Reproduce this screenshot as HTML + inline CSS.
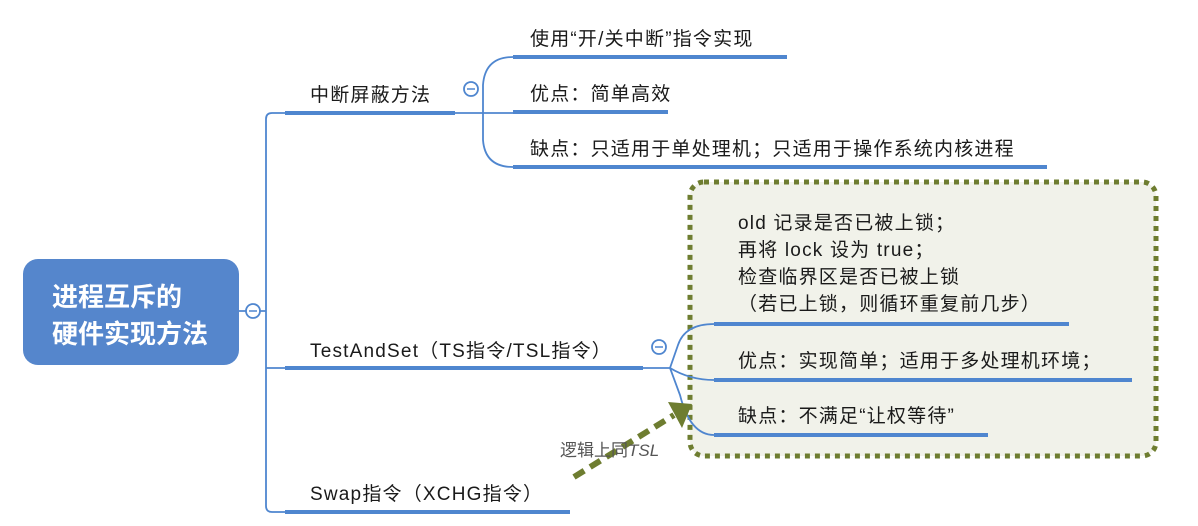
<!DOCTYPE html>
<html><head><meta charset="utf-8"><style>
html,body{margin:0;padding:0;background:#fff;}
svg{display:block;}
text{font-family:"Liberation Sans","Noto Sans CJK SC",sans-serif;fill:#1a1a1a;}
.t{font-size:19px;letter-spacing:1.2px;}
</style></head><body>
<svg width="1198" height="526" viewBox="0 0 1198 526" xmlns="http://www.w3.org/2000/svg">
<rect x="690" y="182" width="466" height="274" rx="14" fill="#f1f2ea" stroke="#6e7d30" stroke-width="5" stroke-dasharray="5 5"/>
<rect x="23" y="259" width="216" height="106" rx="15" fill="#5586cc"/>
<text x="52" y="306" font-size="26" font-weight="bold" style="fill:#fff">进程互斥的</text>
<text x="52" y="343" font-size="26" font-weight="bold" style="fill:#fff">硬件实现方法</text>
<g fill="none" stroke="#4f86cf" stroke-width="1.8">
<line x1="239" y1="311" x2="266" y2="311"/>
<path d="M285 113 H272 Q266 113 266 119 V506 Q266 512 272 512 H285"/>
<line x1="266" y1="368" x2="285" y2="368"/>
<line x1="455" y1="113" x2="513" y2="113"/>
<path d="M513 57 Q485 57 483 85 V140 Q485 167 513 167"/>
<line x1="643" y1="368" x2="670" y2="368"/>
<path d="M714 324 Q685 324 678 345 L670 368 L680 395 Q690 435 714 435"/>
<path d="M670 368 Q690 380 714 380"/>
</g>
<g fill="#fff" stroke="#4f86cf" stroke-width="1.8">
<circle cx="253" cy="311" r="7"/><circle cx="471" cy="89" r="7"/><circle cx="659" cy="347" r="7"/>
</g>
<g stroke="#4f86cf" stroke-width="1.5"><line x1="249" y1="311" x2="257" y2="311"/><line x1="467" y1="89" x2="475" y2="89"/><line x1="655" y1="347" x2="663" y2="347"/></g>
<g fill="#4f86cf">
<rect x="285" y="111" width="170" height="4"/>
<rect x="285" y="366" width="358" height="4"/>
<rect x="285" y="510" width="285" height="4"/>
<rect x="513" y="55" width="274" height="4"/>
<rect x="513" y="110" width="155" height="4"/>
<rect x="513" y="165" width="534" height="4"/>
<rect x="714" y="322" width="355" height="4"/>
<rect x="714" y="378" width="418" height="4"/>
<rect x="714" y="433" width="274" height="4"/>
</g>
<g class="t">
<text x="310" y="101">中断屏蔽方法</text>
<text x="530" y="45">使用“开/关中断”指令实现</text>
<text x="530" y="100">优点：简单高效</text>
<text x="530" y="155">缺点：只适用于单处理机；只适用于操作系统内核进程</text>
<text x="310" y="357">TestAndSet（TS指令/TSL指令）</text>
<text x="310" y="500">Swap指令（XCHG指令）</text>
<text x="738" y="229">old 记录是否已被上锁；</text>
<text x="738" y="256">再将 lock 设为 true；</text>
<text x="738" y="283">检查临界区是否已被上锁</text>
<text x="738" y="310">（若已上锁，则循环重复前几步）</text>
<text x="738" y="367">优点：实现简单；适用于多处理机环境；</text>
<text x="738" y="422">缺点：不满足“让权等待”</text>
</g>
<line x1="574" y1="477" x2="674" y2="415" stroke="#6e7d30" stroke-width="6" stroke-dasharray="12 7"/>
<text x="560" y="456" font-size="17" style="fill:#555">逻辑上同<tspan font-style="italic">TSL</tspan></text>
<polygon points="668,402 692,404 682,428" fill="#6e7d30"/>
</svg>
</body></html>
